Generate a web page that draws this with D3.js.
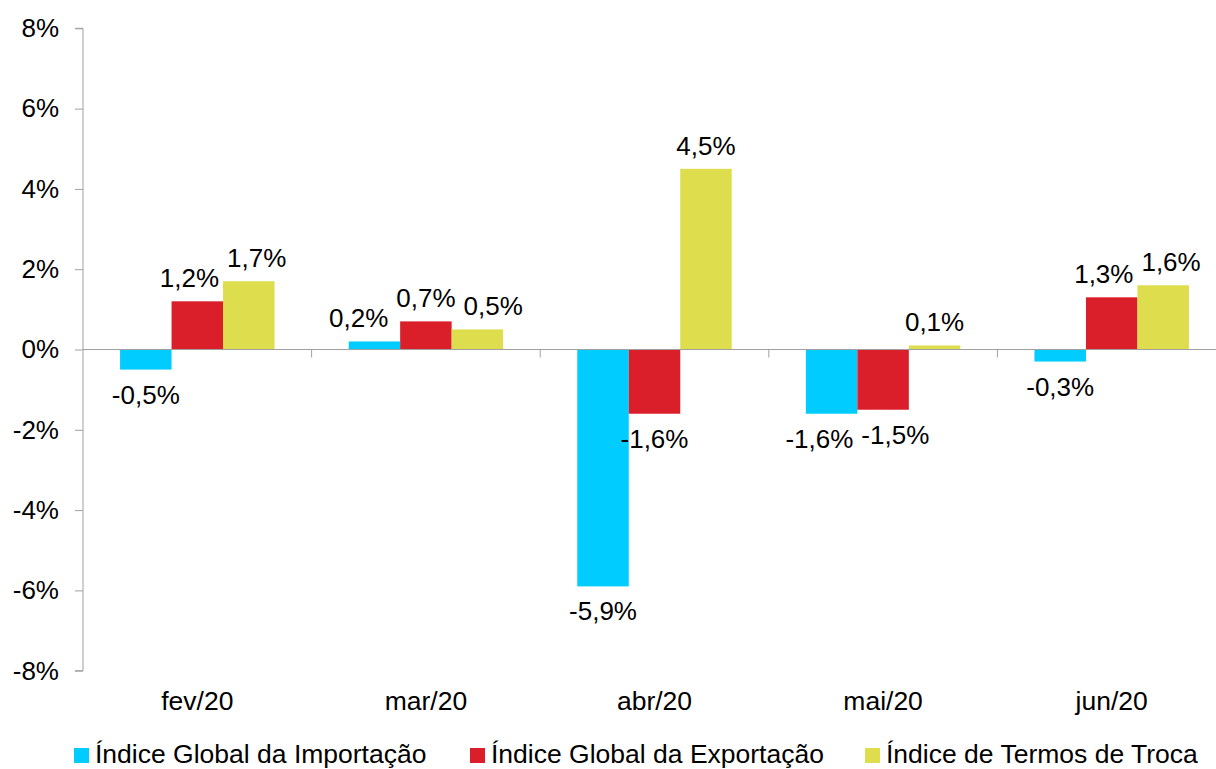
<!DOCTYPE html>
<meta charset="utf-8">
<html>
<head>
    <title>Índices</title>
    <style>
        body { margin: 0; background: #fff; }
        text { font-family: "Liberation Sans", Arial, sans-serif; fill: #000; }
    </style>
</head>
<body>
<div id="viz"></div>
<script src="https://cdnjs.cloudflare.com/ajax/libs/d3/7.8.5/d3.min.js"></script>
<script>
    var months = ["fev/20", "mar/20", "abr/20", "mai/20", "jun/20"];
    var seriesNames = ["Índice Global da Importação", "Índice Global da Exportação", "Índice de Termos de Troca"];
    var importacao = [-0.5, 0.2, -5.9, -1.6, -0.3];
    var exportacao = [1.2, 0.7, -1.6, -1.5, 1.3];
    var termosTroca = [1.7, 0.5, 4.5, 0.1, 1.6];
    var yTicks = [-8, -6, -4, -2, 0, 2, 4, 6, 8];

    var colors = ["#00ccff", "#da1f2a", "#dddd4d"];
    var series = [importacao, exportacao, termosTroca];

    var width = 1216, height = 769;
    var plotLeft = 83, plotRight = 1226, plotTop = 28.3, plotBottom = 670.7;
    var fontSize = "26px", bigFont = "26.5px";

    var svg = d3.select("#viz").append("svg")
        .attr("width", width)
        .attr("height", height);

    var x = d3.scaleBand().domain(months).range([plotLeft, plotRight]);
    var x1 = d3.scaleBand().domain(d3.range(series.length))
        .range([0, x.bandwidth()]).paddingOuter(0.72);
    var y = d3.scaleLinear().domain([-8, 8]).range([plotBottom, plotTop]);

    var ptBR = d3.formatLocale({ decimal: ",", thousands: ".", grouping: [3], currency: ["R$", ""], minus: "-" });
    var fmt = function (v) { return ptBR.format(".1f")(v) + "%"; };

    // y axis
    var yAxis = svg.append("g")
        .attr("transform", "translate(" + plotLeft + ",0)")
        .call(d3.axisLeft(y).tickValues(yTicks).tickSize(8).tickPadding(16)
            .tickFormat(function (d) { return d + "%"; }));
    yAxis.select(".domain").attr("stroke", "#a0a0a0").attr("d", "M-8," + y(8) + "H0V" + y(-8) + "H-8");
    yAxis.selectAll(".tick line").attr("stroke", "#a0a0a0");
    yAxis.selectAll(".tick text").style("font-size", fontSize).attr("fill", "#000")
        .style("font-family", "'Liberation Sans', Arial, sans-serif");

    // bars
    var groups = svg.selectAll("g.month")
        .data(months).enter()
        .append("g")
        .attr("class", "month")
        .attr("transform", function (d) { return "translate(" + x(d) + ",0)"; });

    var cells = function (d, i) { return series.map(function (s, j) { return { s: j, v: s[i] }; }); };

    groups.selectAll("rect")
        .data(cells)
        .enter().append("rect")
        .attr("x", function (d) { return x1(d.s); })
        .attr("width", x1.bandwidth())
        .attr("y", function (d) { return y(Math.max(0, d.v)); })
        .attr("height", function (d) { return Math.abs(y(d.v) - y(0)); })
        .attr("fill", function (d) { return colors[d.s]; });

    // value labels, pushed apart sideways when they collide
    groups.each(function () {
        var g = d3.select(this);
        var labels = g.selectAll("text.lbl")
            .data(cells(null, months.indexOf(g.datum())))
            .enter().append("text")
            .attr("class", "lbl")
            .attr("text-anchor", "middle")
            .style("font-size", fontSize)
            .text(function (d) { return fmt(d.v); });
        labels.each(function (d) {
            d.cx = x1(d.s) + x1.bandwidth() / 2;
            d.by = d.v >= 0 ? y(d.v) - 14 : y(d.v) + 34;
            d.w = this.getComputedTextLength();
        });
        var ls = labels.data();
        for (var it = 0; it < 10; it++) {
            for (var a = 0; a < ls.length; a++) {
                for (var b = a + 1; b < ls.length; b++) {
                    var p = ls[a], q = ls[b];
                    if (Math.abs(p.by - q.by) > 24) continue;
                    var need = (p.w + q.w) / 2 + 8 - (q.cx - p.cx);
                    if (need > 0) { p.cx -= need / 2; q.cx += need / 2; }
                }
            }
        }
        labels.attr("x", function (d) { return d.cx; })
            .attr("y", function (d) { return d.by; });
    });

    // zero line and category ticks
    svg.append("line")
        .attr("x1", plotLeft).attr("x2", width)
        .attr("y1", y(0)).attr("y2", y(0))
        .attr("stroke", "#a0a0a0");
    svg.selectAll("line.ctick")
        .data(months.slice(1)).enter()
        .append("line")
        .attr("x1", function (d) { return x(d); }).attr("x2", function (d) { return x(d); })
        .attr("y1", y(0)).attr("y2", y(0) + 8)
        .attr("stroke", "#a0a0a0");

    // month labels
    svg.selectAll("text.mlabel")
        .data(months).enter()
        .append("text")
        .attr("class", "mlabel")
        .attr("x", function (d) { return x(d) + x.bandwidth() / 2; })
        .attr("y", 710)
        .attr("text-anchor", "middle")
        .style("font-size", bigFont)
        .text(function (d) { return d; });

    // legend
    var legendX = [74, 470, 865];
    var legend = svg.selectAll("g.legend")
        .data(seriesNames).enter()
        .append("g")
        .attr("transform", function (d, i) { return "translate(" + legendX[i] + ",748)"; });
    legend.append("rect")
        .attr("width", 15).attr("height", 15)
        .attr("fill", function (d, i) { return colors[i]; });
    legend.append("text")
        .attr("x", 21).attr("y", 15)
        .style("font-size", bigFont)
        .text(function (d) { return d; });
</script>
</body>
</html>
